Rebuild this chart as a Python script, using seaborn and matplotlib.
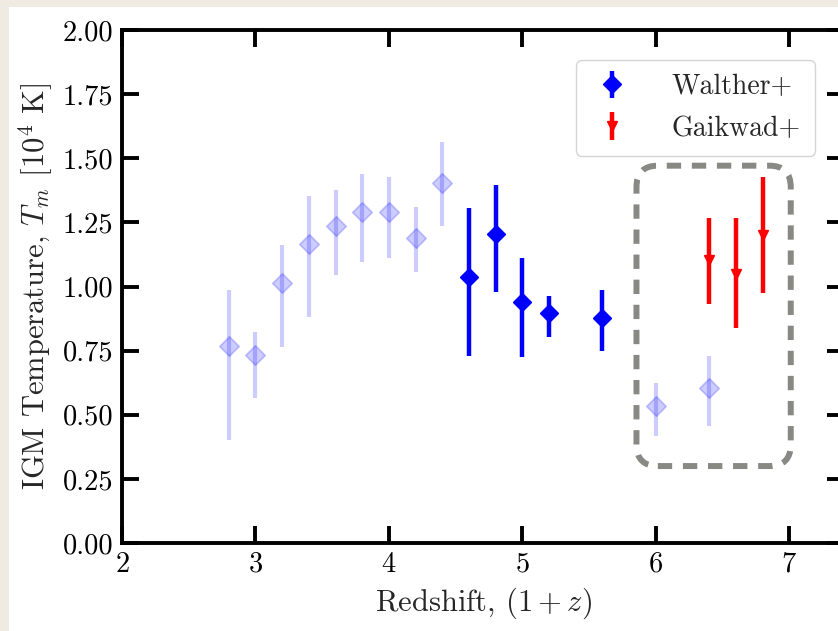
import matplotlib
matplotlib.use("Agg")
import matplotlib.pyplot as plt
import numpy as np
import pandas as pd
import seaborn as sns
from matplotlib.patches import FancyBboxPatch, Rectangle

# Faded points (earlier measurements, shown in the background)
faded_z = [2.8, 3.0, 3.2, 3.4, 3.6, 3.8, 4.0, 4.2, 4.4, 6.0, 6.4]
faded_t = [0.769, 0.733, 1.015, 1.165, 1.236, 1.289, 1.289, 1.190, 1.402, 0.535, 0.603]
faded_lo = [0.402, 0.565, 0.765, 0.880, 1.045, 1.097, 1.112, 1.055, 1.237, 0.418, 0.456]
faded_hi = [0.986, 0.824, 1.162, 1.354, 1.376, 1.439, 1.428, 1.309, 1.563, 0.623, 0.729]

# Walther+
walther_z = [4.6, 4.8, 5.0, 5.2, 5.6]
walther_t = [1.038, 1.205, 0.941, 0.896, 0.878]
walther_lo = [0.729, 0.977, 0.724, 0.802, 0.750]
walther_hi = [1.307, 1.396, 1.110, 0.964, 0.986]

# Gaikwad+
gaikwad_z = [6.4, 6.6, 6.8]
gaikwad_t = [1.103, 1.049, 1.201]
gaikwad_lo = [0.932, 0.837, 0.976]
gaikwad_hi = [1.268, 1.268, 1.428]

x_ticks = [2, 3, 4, 5, 6, 7]
y_ticks = [0.0, 0.25, 0.5, 0.75, 1.0, 1.25, 1.5, 1.75, 2.0]


def yerr(val, lo, hi):
    val, lo, hi = np.array(val), np.array(lo), np.array(hi)
    return [val - lo, hi - val]


sns.set_style("ticks")
plt.rcParams["font.family"] = "serif"
plt.rcParams["font.serif"] = ["cmr10"]
plt.rcParams["mathtext.fontset"] = "cm"
plt.rcParams["axes.formatter.use_mathtext"] = True
plt.rcParams["font.size"] = 20

fig = plt.figure(figsize=(8.38, 6.31), dpi=100)
fig.patch.set_facecolor("#efebe3")
fig.patches.append(Rectangle((9 / 838, 0), 1, 1 - 7 / 631, transform=fig.transFigure,
                             facecolor="white", edgecolor="none", zorder=-10))

ax = fig.add_axes([122 / 838, 88 / 631, 722 / 838, 513 / 631])
ax.set_facecolor("white")

faded_df = pd.DataFrame({"z": faded_z, "T": faded_t})
ax.errorbar(faded_z, faded_t, yerr=yerr(faded_t, faded_lo, faded_hi), fmt="none",
            ecolor="blue", elinewidth=3.0, alpha=0.2, zorder=2)
sns.scatterplot(data=faded_df, x="z", y="T", marker="D", s=100, color="blue",
                alpha=0.2, edgecolor="blue", linewidth=1.2, ax=ax, zorder=3)

ax.errorbar(walther_z, walther_t, yerr=yerr(walther_t, walther_lo, walther_hi),
            fmt="D", color="blue", ms=9, elinewidth=3.2, capsize=0, label="Walther+", zorder=4)
ax.errorbar(gaikwad_z, gaikwad_t, yerr=yerr(gaikwad_t, gaikwad_lo, gaikwad_hi),
            fmt="v", color="red", ms=7, elinewidth=3.2, capsize=0, label="Gaikwad+", zorder=4)

box = FancyBboxPatch((5.855, 0.300), 7.011 - 5.855, 1.471 - 0.300,
                     boxstyle="round,pad=0,rounding_size=0.16", mutation_aspect=0.52,
                     facecolor="none", edgecolor="#888884", linewidth=4.3,
                     linestyle=(0, (2.4, 1.8)), zorder=1)
ax.add_patch(box)

ax.set_xlim(2, 7.41)
ax.set_ylim(0, 2)
ax.set_xticks(x_ticks)
ax.set_yticks(y_ticks)
ax.yaxis.set_major_formatter(matplotlib.ticker.FormatStrFormatter("%.2f"))
ax.tick_params(direction="in", length=12.5, width=2.8, top=True, right=True,
               labelsize=20.5, pad=6, colors="black")
for sp in ax.spines.values():
    sp.set_linewidth(2.8)
    sp.set_color("black")

ax.set_xlabel(r"Redshift, $(1+z)$", fontsize=22, labelpad=6)
ax.set_ylabel(r"IGM Temperature, $T_m$ [$10^4$ K]", fontsize=22, labelpad=6)

ax.legend(loc="upper right", bbox_to_anchor=((815 - 122) / 722, (543 - 60) / 513),
          fontsize=20, frameon=True, fancybox=True, framealpha=1.0,
          edgecolor="#d5d5d5", borderpad=0.5, handlelength=1.6, handletextpad=1.35,
          labelspacing=0.55, borderaxespad=0)

fig.savefig("out.png", dpi=100, facecolor=fig.get_facecolor())
